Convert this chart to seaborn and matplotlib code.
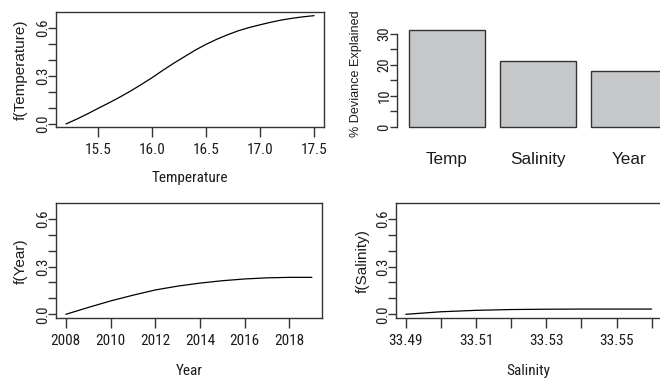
import matplotlib
matplotlib.use("Agg")
import matplotlib.pyplot as plt
from matplotlib import font_manager
import seaborn as sns

# smooth term estimates
temp_x = [15.2, 15.3, 15.4, 15.5, 15.6, 15.7, 15.8, 15.9, 16.0, 16.1, 16.2, 16.3,
          16.4, 16.5, 16.6, 16.7, 16.8, 16.9, 17.0, 17.1, 17.2, 17.3, 17.4, 17.5]
temp_f = [0.000, 0.030, 0.063, 0.098, 0.132, 0.168, 0.206, 0.247, 0.290, 0.336, 0.380, 0.421,
          0.462, 0.498, 0.530, 0.558, 0.583, 0.603, 0.620, 0.636, 0.650, 0.661, 0.670, 0.677]

year_x = [2008, 2009, 2010, 2011, 2012, 2013, 2014, 2015, 2016, 2017, 2018, 2019]
year_f = [0.000, 0.043, 0.084, 0.120, 0.153, 0.177, 0.196, 0.211, 0.222, 0.229, 0.232, 0.232]

sal_x = [33.49, 33.50, 33.51, 33.52, 33.53, 33.54, 33.55, 33.56]
sal_f = [0.000, 0.016, 0.025, 0.030, 0.032, 0.033, 0.033, 0.033]

dev_names = ["Temp", "Salinity", "Year"]
dev_values = [31.2, 21.1, 18.1]

f_ticks = [0.0, 0.1, 0.2, 0.3, 0.4, 0.5, 0.6]
f_labels = ["0.0", "", "", "0.3", "", "", "0.6"]
temp_ticks = [15.5, 16.0, 16.5, 17.0, 17.5]
temp_labels = ["15.5", "16.0", "16.5", "17.0", "17.5"]
year_ticks = [2008, 2010, 2012, 2014, 2016, 2018]
year_labels = ["2008", "2010", "2012", "2014", "2016", "2018"]
sal_ticks = [33.49, 33.50, 33.51, 33.52, 33.53, 33.54, 33.55, 33.56]
sal_labels = ["33.49", "", "33.51", "", "33.53", "", "33.55", ""]
dev_ticks = [0, 5, 10, 15, 20, 25, 30]
dev_labels = ["0", "", "10", "", "20", "", "30"]

sns.set_theme(style="ticks")


def has_font(name):
    try:
        font_manager.findfont(name, fallback_to_default=False)
        return True
    except Exception:
        return False


NARROW = "Roboto Condensed" if has_font("Roboto Condensed") else "Liberation Sans"
REG = "Liberation Sans"
plt.rcParams["font.family"] = [NARROW, "DejaVu Sans"]

INK = "#1c1c1c"
EDGE = "#333333"

W, H = 660, 379
fig = plt.figure(figsize=(W / 100, H / 100), dpi=100)


def px_axes(left, top, right, bottom):
    return fig.add_axes([left / W, 1 - bottom / H, (right - left) / W, (bottom - top) / H])


def style_smooth(ax, xlim, ylim, xticks, xlabels, xlab, ylab):
    ax.set_xlim(*xlim)
    ax.set_ylim(*ylim)
    ax.set_xticks(xticks, xlabels)
    ax.set_yticks(f_ticks, f_labels)
    for s in ax.spines.values():
        s.set_visible(True)
        s.set_color(EDGE)
        s.set_linewidth(1.0)
    ax.tick_params(axis="x", length=7.2, width=1.0, color=EDGE, pad=4.3,
                   labelsize=11, labelcolor=INK)
    ax.tick_params(axis="y", length=5.5, width=1.0, color=EDGE, pad=-1,
                   labelsize=10.5, labelcolor=INK, labelrotation=90)
    for lab in ax.get_yticklabels():
        lab.set_va("center")
    ax.set_xlabel(xlab, fontsize=11, color=INK, family=[NARROW, "DejaVu Sans"])
    ax.set_ylabel(ylab, fontsize=11, color=INK, family=[REG, "DejaVu Sans"])
    ax.grid(False)


# f(Temperature)
ax1 = px_axes(56, 12.3, 324, 127.3)
sns.lineplot(x=temp_x, y=temp_f, ax=ax1, color="black", linewidth=0.9)
style_smooth(ax1, (15.108, 17.592), (-0.021, 0.698), temp_ticks, temp_labels,
             "Temperature", "f(Temperature)")
ax1.xaxis.set_label_coords(0.5, -0.38)
ax1.yaxis.set_label_coords(-0.106, 0.5)

# f(Year)
ax3 = px_axes(56, 203.3, 321.7, 318.3)
sns.lineplot(x=year_x, y=year_f, ax=ax3, color="black", linewidth=0.9)
style_smooth(ax3, (2007.56, 2019.44), (-0.025, 0.697), year_ticks, year_labels,
             "Year", "f(Year)")
ax3.xaxis.set_label_coords(0.5, -0.397)
ax3.yaxis.set_label_coords(-0.107, 0.5)

# f(Salinity) - runs off the right edge like the original
ax4 = px_axes(396, 203.3, 661.5, 318.3)
sns.lineplot(x=sal_x, y=sal_f, ax=ax4, color="black", linewidth=0.9)
style_smooth(ax4, (33.4872, 33.5628), (-0.025, 0.697), sal_ticks, sal_labels,
             "Salinity", "f(Salinity)")
ax4.xaxis.set_label_coords(0.5, -0.397)
ax4.yaxis.set_label_coords(-0.1, 0.5)

# % deviance explained
ax2 = px_axes(397.3, 12, 661.5, 128.5)
sns.barplot(x=dev_names, y=dev_values, ax=ax2, width=0.835, color="#c6c7c9",
            saturation=1, edgecolor=EDGE, linewidth=1.0)
ax2.set_xlim(-0.546, 2.357)
ax2.set_ylim(-0.48, 36.9)
ax2.set_yticks(dev_ticks, dev_labels)
ax2.spines["left"].set_bounds(0, 30)
ax2.spines["left"].set_color(EDGE)
ax2.spines["left"].set_linewidth(1.0)
for side in ["top", "right", "bottom"]:
    ax2.spines[side].set_visible(False)
ax2.tick_params(axis="x", length=0, pad=17, labelsize=12.3, labelcolor=INK)
for lab in ax2.get_xticklabels():
    lab.set_family([REG, "DejaVu Sans"])
ax2.tick_params(axis="y", length=5.3, width=1.0, color=EDGE, pad=-1,
                labelsize=10.5, labelcolor=INK, labelrotation=90)
for lab in ax2.get_yticklabels():
    lab.set_va("center")
ax2.set_xlabel("")
ax2.set_ylabel("% Deviance Explained", fontsize=9.1, color=INK, family=[REG, "DejaVu Sans"])
ax2.yaxis.set_label_coords(-0.132, 0.47)
ax2.grid(False)

fig.savefig("out.png", dpi=100)
